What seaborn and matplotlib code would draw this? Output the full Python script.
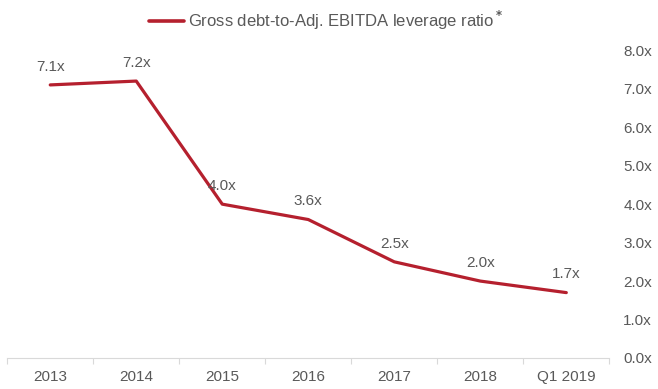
import matplotlib
matplotlib.use("Agg")
import matplotlib.pyplot as plt
import seaborn as sns
import pandas as pd
import numpy as np
from matplotlib.lines import Line2D

categories = ["2013", "2014", "2015", "2016", "2017", "2018", "Q1 2019"]
leverage = [7.1, 7.2, 4.0, 3.6, 2.5, 2.0, 1.7]
value_labels = ["7.1x", "7.2x", "4.0x", "3.6x", "2.5x", "2.0x", "1.7x"]
y_ticks = [0, 1, 2, 3, 4, 5, 6, 7, 8]
y_tick_labels = ["0.0x", "1.0x", "2.0x", "3.0x", "4.0x", "5.0x", "6.0x", "7.0x", "8.0x"]
series_name = "Gross debt-to-Adj. EBITDA leverage ratio"

sns.set_theme(style="white")
plt.rcParams['font.family'] = ['Liberation Sans', 'DejaVu Sans']

df = pd.DataFrame({"pos": np.arange(len(categories)), "value": leverage})

fig = plt.figure(figsize=(6.58, 3.89), dpi=100)
ax = fig.add_axes([0.011, 0.0797, 0.915, 0.791])

red = "#b5202e"
grey_text = "#595959"
fs = 11

sns.lineplot(data=df, x="pos", y="value", ax=ax, color=red, linewidth=2.3, legend=False)

for xp, yv, lab in zip(df["pos"], df["value"], value_labels):
    ax.annotate(lab, (xp, yv), xytext=(0, 8), textcoords="offset points",
                ha="center", va="bottom", fontsize=fs, color=grey_text)

ax.set_xlim(-0.5, len(categories) - 0.5)
ax.set_ylim(0, 8)
ax.set_xticks(df["pos"])
ax.set_xticklabels(categories, fontsize=fs, color=grey_text)
ax.set_xticks(np.arange(-0.5, len(categories), 1.0), minor=True)
ax.tick_params(axis="x", which="major", length=0, pad=9)
ax.tick_params(axis="x", which="minor", length=4, color="#d9d9d9", width=0.8, bottom=True)

ax.yaxis.tick_right()
ax.set_yticks(y_ticks)
ax.set_yticklabels(y_tick_labels, fontsize=fs, color=grey_text)
ax.tick_params(axis="y", length=0, pad=10)

for s in ["top", "left", "right"]:
    ax.spines[s].set_visible(False)
ax.spines["bottom"].set_color("#d9d9d9")
ax.spines["bottom"].set_linewidth(0.8)
ax.set_xlabel("")
ax.set_ylabel("")
ax.grid(False)

handle = Line2D([0], [0], color=red, linewidth=2.6)
fig.legend([handle], [series_name + r"$^{\bf *}$"], loc="center", bbox_to_anchor=(0.496, 0.948),
           frameon=False, fontsize=12, labelcolor=grey_text, handlelength=2.1, handletextpad=0.25)

fig.savefig("out.png", dpi=100)
